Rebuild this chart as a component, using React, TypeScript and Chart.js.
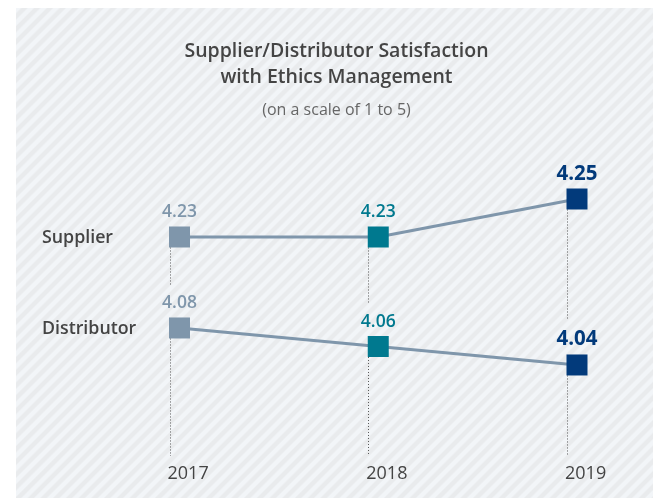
import React, { useEffect, useRef } from 'react';
import { Chart, registerables } from 'chart.js';

Chart.register(...registerables);

const years = ['2017', '2018', '2019'];
const supplier = [4.23, 4.23, 4.25];
const distributor = [4.08, 4.06, 4.04];
const seriesNames = ['Supplier', 'Distributor'];
const titleLines = ['Supplier/Distributor Satisfaction', 'with Ethics Management'];
const subtitle = '(on a scale of 1 to 5)';
const yearColors = ['#7f96ab', '#00798f', '#023a7b'];

const FONT = '"Open Sans", "Noto Sans", sans-serif';
const HALF = 10.5;

const overlay = {
  id: 'overlay',
  beforeDatasetsDraw(chart: any) {
    const ctx = chart.ctx;
    const xs = chart.scales.x;
    const ys = chart.scales.y;
    const ys2 = chart.scales.y2;
    const bottom = chart.chartArea.bottom;
    ctx.save();
    ctx.strokeStyle = '#555';
    ctx.lineWidth = 1;
    ctx.setLineDash([1, 2]);
    years.forEach((_, i) => {
      const cx = xs.getPixelForValue(i);
      const x = Math.round(cx - 10) + 0.5;
      const sy = ys.getPixelForValue(supplier[i]);
      const dy = ys2.getPixelForValue(distributor[i]);
      const fs = i === 2 ? 20.5 : 17.5;
      ctx.beginPath();
      ctx.moveTo(x, sy + HALF);
      ctx.lineTo(x, dy - HALF - 9 - fs * 0.72 - 11);
      ctx.moveTo(x, dy + HALF);
      ctx.lineTo(x, bottom);
      ctx.stroke();
    });
    ctx.restore();
  },
  afterDatasetsDraw(chart: any) {
    const ctx = chart.ctx;
    const xs = chart.scales.x;
    const bottom = chart.chartArea.bottom;
    ctx.save();
    chart.data.datasets.forEach((ds: any, di: number) => {
      const meta = chart.getDatasetMeta(di);
      meta.data.forEach((pt: any, i: number) => {
        const fs = i === 2 ? 20.5 : 17.5;
        ctx.font = `${i === 2 ? 'bold' : '600'} ${fs}px ${FONT}`;
        ctx.fillStyle = yearColors[i];
        ctx.textAlign = 'center';
        ctx.textBaseline = 'alphabetic';
        ctx.fillText(ds.data[i].toFixed(2), pt.x, pt.y - HALF - 9);
      });
      const first = meta.data[0];
      ctx.font = `600 17.8px ${FONT}`;
      ctx.fillStyle = '#444';
      ctx.textAlign = 'left';
      ctx.textBaseline = 'middle';
      ctx.fillText(seriesNames[di], 42, first.y + 1);
    });
    ctx.font = `18px ${FONT}`;
    ctx.fillStyle = '#444';
    ctx.textAlign = 'left';
    ctx.textBaseline = 'alphabetic';
    years.forEach((y, i) => {
      const cx = xs.getPixelForValue(i);
      ctx.fillText(y, cx - 12, bottom + 23);
    });
    ctx.textAlign = 'center';
    ctx.font = `600 19.5px ${FONT}`;
    ctx.fillStyle = '#444';
    ctx.fillText(titleLines[0], 336.5, 57);
    ctx.fillText(titleLines[1], 336.5, 83);
    ctx.font = `16px ${FONT}`;
    ctx.fillStyle = '#666';
    ctx.fillText(subtitle, 336.5, 115);
    ctx.restore();
  },
};

export default function App() {
  const ref = useRef<HTMLCanvasElement | null>(null);
  useEffect(() => {
    if (!ref.current) return;
    const pointOpts = {
      pointStyle: 'rect',
      pointRadius: HALF * Math.SQRT2,
      pointHoverRadius: HALF * Math.SQRT2,
      pointBorderWidth: 0,
      pointBackgroundColor: yearColors,
      pointBorderColor: yearColors,
      borderColor: '#7f96ab',
      borderWidth: 3,
      tension: 0,
      clip: false as any,
    };
    const chart = new Chart(ref.current, {
      type: 'line',
      data: {
        labels: years,
        datasets: [
          { label: seriesNames[0], data: supplier, yAxisID: 'y', ...pointOpts } as any,
          { label: seriesNames[1], data: distributor, yAxisID: 'y2', ...pointOpts } as any,
        ],
      },
      options: {
        animation: false,
        responsive: true,
        maintainAspectRatio: false,
        events: [],
        layout: { padding: { left: 179.5, right: 76, top: 150, bottom: 42 } },
        plugins: { legend: { display: false }, tooltip: { enabled: false }, title: { display: false } },
        scales: {
          x: { type: 'category', display: false, offset: false },
          y: { type: 'linear', display: false, min: 4.1147, max: 4.2758 },
          y2: { type: 'linear', display: false, min: 3.9416, max: 4.2724 },
        },
      },
      plugins: [overlay],
    });
    return () => chart.destroy();
  }, []);

  return (
    <div style={{ position: 'absolute', left: 0, top: 0, width: 653, height: 498, overflow: 'hidden' }}>
      <div
        style={{
          position: 'absolute',
          left: 16,
          top: 8,
          right: 0,
          bottom: 0,
          background:
            'repeating-linear-gradient(135deg, #f2f5f8 0px, #f2f5f8 3px, #e9ebed 4.5px, #e9ebed 7.5px, #f2f5f8 9px)',
        }}
      />
      <canvas ref={ref} style={{ position: 'absolute', left: 0, top: 0 }} />
    </div>
  );
}
